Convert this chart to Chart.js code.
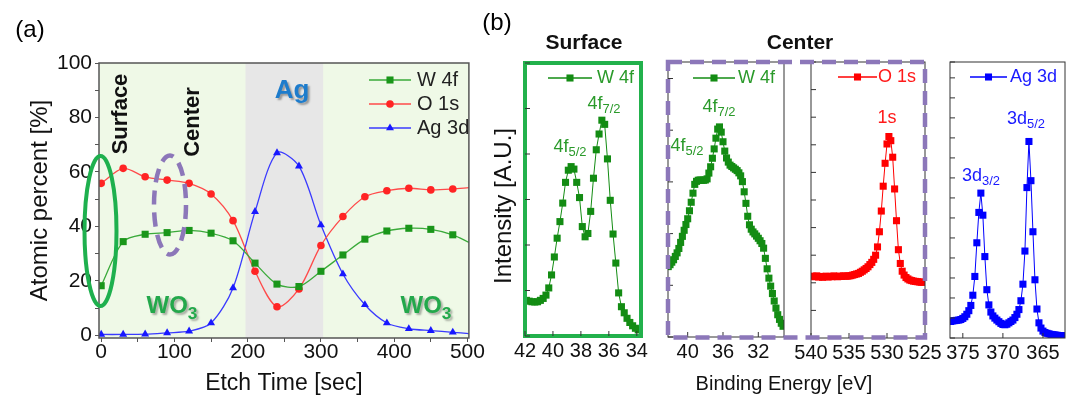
<!DOCTYPE html>
<html>
<head>
<meta charset="utf-8">
<script src="https://cdn.jsdelivr.net/npm/chart.js@4.4.0/dist/chart.umd.min.js"></script>
<style>
body { margin: 0; background: #fff; }
#fig { position: relative; width: 1067px; height: 403px; overflow: hidden; font-family: "Liberation Sans", Arial, sans-serif; }
#fig canvas { position: absolute; z-index: 1; }
.t { position: absolute; white-space: nowrap; line-height: 1; z-index: 3; transform: translate(-50%, -50%); }
.rot { transform: translate(-50%, -50%) rotate(-90deg); }
.b { font-weight: bold; }
.s { font-size: 0.72em; position: relative; top: 0.32em; }
#over { position: absolute; left: 0; top: 0; z-index: 2; }
</style>
</head>
<body>
<div id="fig">
  <svg id="over" width="1067" height="403">
    <ellipse cx="100.5" cy="231" rx="16" ry="75" fill="none" stroke="#1eb04e" stroke-width="4"/>
    <ellipse cx="170" cy="205" rx="16" ry="49.5" fill="none" stroke="#8c77b9" stroke-width="4.5" stroke-dasharray="14 8"/>
    <rect x="668" y="62" width="257" height="275.5" fill="none" stroke="#8c77b9" stroke-width="4.5" stroke-dasharray="14 8"/>
  </svg>

  <div class="t" style="left:30px;top:29px;font-size:24px;">(a)</div>
  <div class="t" style="left:497px;top:22px;font-size:24px;">(b)</div>

  <div class="t rot b" style="left:120px;top:114px;font-size:22px;color:#111;">Surface</div>
  <div class="t rot b" style="left:192px;top:122px;font-size:22px;color:#111;">Center</div>
  <div class="t b" style="left:292px;top:89px;font-size:26px;color:#1d7ccc;text-shadow:2px 2px 2px rgba(0,0,0,0.35);">Ag</div>
  <div class="t b" style="left:172px;top:305px;font-size:24px;color:#23a84b;text-shadow:2px 2px 2px rgba(0,0,0,0.3);">WO<span class="s">3</span></div>
  <div class="t b" style="left:426px;top:305px;font-size:24px;color:#23a84b;text-shadow:2px 2px 2px rgba(0,0,0,0.3);">WO<span class="s">3</span></div>

  <div class="t b" style="left:584px;top:41px;font-size:21px;color:#111;">Surface</div>
  <div class="t b" style="left:800px;top:41px;font-size:21px;color:#111;">Center</div>
  <div class="t rot" style="left:503px;top:206px;font-size:24px;color:#111;">Intensity [A.U.]</div>
  <div class="t" style="left:784px;top:383px;font-size:20px;color:#111;">Binding Energy [eV]</div>

  <div class="t" style="left:604px;top:103px;font-size:18px;color:#2a9a2a;">4f<span class="s">7/2</span></div>
  <div class="t" style="left:570px;top:146px;font-size:18px;color:#2a9a2a;">4f<span class="s">5/2</span></div>
  <div class="t" style="left:719px;top:106px;font-size:18px;color:#2a9a2a;">4f<span class="s">7/2</span></div>
  <div class="t" style="left:687px;top:145px;font-size:18px;color:#2a9a2a;">4f<span class="s">5/2</span></div>
  <div class="t" style="left:887px;top:117px;font-size:18px;color:#ff1a1a;">1s</div>
  <div class="t" style="left:1026px;top:118px;font-size:18px;color:#1a1aff;">3d<span class="s">5/2</span></div>
  <div class="t" style="left:981px;top:175px;font-size:18px;color:#1a1aff;">3d<span class="s">3/2</span></div>
</div>

<script>
// (a) depth profile
const etchTime = [0, 30, 60, 90, 120, 150, 180, 210, 240, 270, 300, 330, 360, 390, 420, 450, 480, 502]
const w4f = [18.2, 34.4, 37.1, 37.7, 38.5, 37.5, 34.7, 26.5, 18.8, 17.9, 23.5, 29.5, 35.3, 38.3, 39.3, 38.9, 36.9, 34.1]
const o1s = [55.8, 61.3, 58.2, 57.0, 55.8, 51.9, 42.1, 23.5, 10.5, 17.0, 33.0, 43.6, 50.9, 53.1, 54.0, 53.4, 53.7, 54.2]
const ag3d = [0.3, 0.3, 0.4, 0.9, 1.5, 4.5, 17.4, 45.4, 67.0, 62.1, 40.5, 22.5, 11.2, 4.5, 2.4, 1.7, 1.1, 0.6]
const agRegion = [197, 303]
const etchTicks = [0, 50, 100, 150, 200, 250, 300, 350, 400, 450, 500]
const percentTicks = [0, 10, 20, 30, 40, 50, 60, 70, 80, 90, 100]

// (b) spectra, binding energy [eV] and intensity [a.u.]
const surfaceE = [41.9, 41.7, 41.5, 41.3, 41.1, 40.9, 40.7, 40.5, 40.3, 40.1, 39.9, 39.7, 39.5, 39.3, 39.1, 38.9, 38.7, 38.5, 38.3, 38.1, 37.9, 37.7, 37.5, 37.3, 37.1, 36.9, 36.7, 36.5, 36.3, 36.1, 35.9, 35.7, 35.5, 35.3, 35.1, 34.9, 34.7, 34.5, 34.3, 34.1, 33.9]
const surfaceW = [13.3, 13.0, 12.8, 12.7, 12.8, 13.3, 14.0, 15.2, 17.8, 22.5, 29.0, 35.8, 41.8, 48.5, 56.0, 60.4, 61.7, 60.8, 56.0, 50.5, 40.0, 36.3, 37.5, 45.5, 57.5, 67.8, 73.5, 78.5, 77.0, 64.5, 49.5, 37.3, 26.8, 16.0, 11.0, 8.8, 6.8, 5.3, 4.1, 3.2, 2.6]

const centerE = [42.2, 42.0, 41.8, 41.6, 41.4, 41.2, 41.0, 40.8, 40.6, 40.4, 40.2, 40.0, 39.8, 39.6, 39.4, 39.2, 39.0, 38.8, 38.6, 38.4, 38.2, 38.0, 37.8, 37.6, 37.4, 37.2, 37.0, 36.8, 36.6, 36.4, 36.2, 36.0, 35.8, 35.6, 35.4, 35.2, 35.0, 34.8, 34.6, 34.4, 34.2, 34.0, 33.8, 33.6, 33.4, 33.2, 33.0, 32.8, 32.6, 32.4, 32.2, 32.0, 31.8, 31.6, 31.4, 31.2, 31.0, 30.8, 30.6, 30.4, 30.2, 30.0, 29.8, 29.6, 29.4, 29.2]
const centerW = [25.6, 26.3, 27.2, 28.1, 29.3, 30.6, 32.2, 34.4, 36.6, 38.8, 40.9, 43.0, 45.9, 49.0, 52.3, 55.5, 56.6, 57.0, 57.1, 57.0, 57.0, 57.1, 57.5, 59.6, 61.9, 65.0, 68.4, 72.3, 75.6, 76.4, 74.5, 71.0, 67.6, 65.1, 63.6, 62.5, 62.0, 61.5, 61.0, 60.5, 59.7, 58.6, 56.5, 52.8, 48.6, 43.9, 40.8, 39.2, 38.2, 37.5, 36.7, 35.9, 35.0, 34.0, 32.3, 28.6, 24.8, 21.4, 18.5, 15.8, 13.1, 10.5, 8.1, 6.4, 5.0, 3.9]

const oxygenE = [539.75, 539.5, 539.25, 539.0, 538.75, 538.5, 538.25, 538.0, 537.75, 537.5, 537.25, 537.0, 536.75, 536.5, 536.25, 536.0, 535.75, 535.5, 535.25, 535.0, 534.75, 534.5, 534.25, 534.0, 533.75, 533.5, 533.25, 533.0, 532.75, 532.5, 532.25, 532.0, 531.75, 531.5, 531.25, 531.0, 530.75, 530.5, 530.25, 530.0, 529.75, 529.5, 529.25, 529.0, 528.75, 528.5, 528.25, 528.0, 527.75, 527.5, 527.25, 527.0, 526.75, 526.5, 526.25, 526.0, 525.75, 525.5, 525.25]
const oxygenI = [22.4, 22.2, 22.5, 22.1, 22.3, 22.0, 22.2, 22.4, 22.1, 22.3, 22.2, 22.5, 22.3, 22.2, 22.4, 22.3, 22.5, 22.4, 22.4, 22.5, 22.6, 22.8, 23.0, 23.2, 23.4, 23.8, 24.2, 24.7, 25.2, 25.8, 26.6, 27.4, 28.5, 30.0, 33.0, 38.5, 46.0, 55.0, 63.3, 70.3, 73.0, 71.5, 65.5, 54.0, 42.5, 32.0, 27.0, 24.2, 22.8, 21.9, 21.4, 21.0, 20.8, 20.6, 20.5, 20.4, 20.3, 20.2, 20.2]

const silverE = [376.5, 376.25, 376.0, 375.75, 375.5, 375.25, 375.0, 374.75, 374.5, 374.25, 374.0, 373.75, 373.5, 373.25, 373.0, 372.75, 372.5, 372.25, 372.0, 371.75, 371.5, 371.25, 371.0, 370.75, 370.5, 370.25, 370.0, 369.75, 369.5, 369.25, 369.0, 368.75, 368.5, 368.25, 368.0, 367.75, 367.5, 367.25, 367.0, 366.75, 366.5, 366.25, 366.0, 365.75, 365.5, 365.25, 365.0, 364.75, 364.5, 364.25, 364.0, 363.75, 363.5, 363.25, 363.0, 362.75, 362.5, 362.25]
const silverI = [6.0, 6.2, 6.3, 6.4, 6.5, 6.7, 7.1, 7.7, 8.6, 9.9, 11.8, 15.5, 22.3, 34.5, 45.5, 52.5, 44.5, 29.5, 17.5, 12.0, 9.4, 8.0, 7.2, 6.5, 5.9, 5.3, 4.9, 4.8, 5.0, 5.5, 6.0, 6.5, 7.4, 8.6, 10.3, 13.5, 19.5, 31.5, 54.5, 71.2, 57.0, 38.5, 21.1, 10.5, 5.5, 3.6, 2.5, 2.0, 1.7, 1.5, 1.3, 1.2, 1.1, 1.0, 0.9, 0.9, 0.8, 0.8]

const surfaceTicks = [42, 40, 38, 36, 34]
const centerTicks = [40, 36, 32]
const oxygenTicks = [540, 535, 530, 525]
const silverTicks = [375, 370, 365]

Chart.defaults.font.family = '"Liberation Sans", Arial, sans-serif'
Chart.defaults.color = '#111'

const fig = document.getElementById('fig')

function makeCanvas(id, left, top, w, h) {
    const c = document.createElement('canvas')
    c.id = id
    c.width = w
    c.height = h
    c.style.left = left + 'px'
    c.style.top = top + 'px'
    c.style.width = w + 'px'
    c.style.height = h + 'px'
    fig.appendChild(c)
    return c.getContext('2d')
}

function marker(ctx, style, x, y, r) {
    ctx.beginPath()
    if (style === 'rect') {
        const s = r * Math.SQRT1_2
        ctx.rect(x - s, y - s, 2 * s, 2 * s)
    } else if (style === 'circle') {
        ctx.arc(x, y, r, 0, Math.PI * 2)
    } else {
        ctx.moveTo(x, y - r)
        ctx.lineTo(x + r * 0.866, y + r * 0.5)
        ctx.lineTo(x - r * 0.866, y + r * 0.5)
        ctx.closePath()
    }
    ctx.fill()
}

// plot background with the Ag band
const bgPlugin = {
    id: 'bg',
    beforeDraw(chart, args, o) {
        if (!o.fill) return
        const {ctx, chartArea: a, scales} = chart
        ctx.save()
        ctx.fillStyle = o.fill
        ctx.fillRect(a.left, a.top, a.right - a.left, a.bottom - a.top)
        const x0 = scales.x.getPixelForValue(o.band[0])
        const x1 = scales.x.getPixelForValue(o.band[1])
        ctx.fillStyle = o.bandFill
        ctx.fillRect(x0, a.top, x1 - x0, a.bottom - a.top)
        ctx.restore()
    }
}

const framePlugin = {
    id: 'frame',
    afterDraw(chart, args, o) {
        const {ctx, chartArea: a} = chart
        ctx.save()
        ctx.strokeStyle = o.color
        ctx.lineWidth = o.width
        ctx.strokeRect(a.left, a.top, a.right - a.left, a.bottom - a.top)
        ctx.restore()
    }
}

// short ticks pointing into the plot
const innerTicksPlugin = {
    id: 'innerTicks',
    afterDraw(chart, args, o) {
        if (!o.len) return
        const {ctx, chartArea: a, scales} = chart
        ctx.save()
        ctx.strokeStyle = o.color
        ctx.lineWidth = 1
        ctx.beginPath()
        scales.x.ticks.forEach(t => {
            const p = scales.x.getPixelForValue(t.value)
            ctx.moveTo(p, a.bottom)
            ctx.lineTo(p, a.bottom - o.len)
        })
        scales.y.ticks.forEach(t => {
            const p = scales.y.getPixelForValue(t.value)
            ctx.moveTo(a.left, p)
            ctx.lineTo(a.left + o.len, p)
        })
        ctx.stroke()
        ctx.restore()
    }
}

// legend drawn as line + marker + text
const keyPlugin = {
    id: 'key',
    afterDraw(chart, args, o) {
        const {ctx, chartArea: a} = chart
        ctx.save()
        ctx.font = o.font
        ctx.textBaseline = 'middle'
        o.items.forEach((it, i) => {
            const x = a.left + o.dx
            const y = a.top + o.dy + i * (o.row || 0)
            ctx.strokeStyle = it.line
            ctx.lineWidth = 1.3
            ctx.beginPath()
            ctx.moveTo(x, y)
            ctx.lineTo(x + o.len, y)
            ctx.stroke()
            ctx.fillStyle = it.fill
            marker(ctx, it.style, x + o.len / 2, y, it.radius)
            ctx.fillStyle = it.text_color || '#222'
            ctx.fillText(it.text, x + o.len + o.gap, y)
        })
        ctx.restore()
    }
}

const xy = (xs, ys) => xs.map((x, i) => ({x, y: ys[i]}))
const hideEdge = ctx => (ctx.raw && ctx.raw.x > 500 ? 0 : undefined)

// ---------- panel (a) ----------
const ctxA = makeCanvas('depth', 0, 0, 485, 403)
new Chart(ctxA, {
    type: 'line',
    data: {
        datasets: [
            {label: 'W 4f', data: xy(etchTime, w4f), borderColor: '#3aaa3a', backgroundColor: '#1a961a', pointStyle: 'rect', pointRadius: c => hideEdge(c) ?? 5, pointBorderWidth: 0, borderWidth: 1.3, tension: 0.3},
            {label: 'O 1s', data: xy(etchTime, o1s), borderColor: '#ff4a4a', backgroundColor: '#ff2424', pointStyle: 'circle', pointRadius: c => hideEdge(c) ?? 3.8, pointBorderWidth: 0, borderWidth: 1.3, tension: 0.3},
            {label: 'Ag 3d', data: xy(etchTime, ag3d), borderColor: '#3a3aff', backgroundColor: '#1818ff', pointStyle: 'triangle', pointRadius: c => hideEdge(c) ?? 4.6, pointBorderWidth: 0, borderWidth: 1.3, tension: 0.3}
        ]
    },
    options: {
        responsive: false,
        animation: false,
        events: [],
        layout: {padding: {top: 63, right: 13, left: 0, bottom: 0}},
        plugins: {
            legend: {display: false},
            tooltip: {enabled: false},
            bg: {fill: '#eff9e7', band: agRegion, bandFill: '#e7e7e7'},
            frame: {color: '#555', width: 1.5},
            key: {
                dx: 270, dy: 17, row: 24, len: 42, gap: 6, font: '20px "Liberation Sans", Arial, sans-serif',
                items: [
                    {text: 'W 4f', line: '#3aaa3a', fill: '#1a961a', style: 'rect', radius: 5},
                    {text: 'O 1s', line: '#ff4a4a', fill: '#ff2424', style: 'circle', radius: 3.8},
                    {text: 'Ag 3d', line: '#3a3aff', fill: '#1818ff', style: 'triangle', radius: 4.6}
                ]
            }
        },
        scales: {
            x: {
                type: 'linear', min: -3, max: 502,
                afterBuildTicks: s => { s.ticks = etchTicks.map(v => ({value: v})) },
                afterFit: s => { s.height = 65 },
                grid: {drawOnChartArea: false, tickLength: 4, color: '#555'},
                border: {display: false},
                ticks: {autoSkip: false, maxRotation: 0, padding: 0, color: '#111', font: {size: 21, lineHeight: 1},
                    callback: v => (v % 100 === 0 ? v : '')},
                title: {display: true, text: 'Etch Time [sec]', color: '#111', font: {size: 23, lineHeight: 1.2}, padding: {top: 0, bottom: 6}}
            },
            y: {
                min: -1, max: 100,
                afterBuildTicks: s => { s.ticks = percentTicks.map(v => ({value: v})) },
                afterFit: s => { s.width = 99 },
                grid: {drawOnChartArea: false, tickLength: 4, color: '#555'},
                border: {display: false},
                ticks: {autoSkip: false, padding: 3, color: '#111', font: {size: 21, lineHeight: 1},
                    callback: v => (v % 20 === 0 ? v : '')},
                title: {display: true, text: 'Atomic percent [%]', color: '#111', font: {size: 24, lineHeight: 1.2}, padding: {top: 26, bottom: 0}}
            }
        }
    },
    plugins: [bgPlugin, framePlugin, keyPlugin]
})

// ---------- panel (b) ----------
function spectrum(id, area, range, yRange, step, energy, counts, color, ticks, frame, key) {
    const pad = 25
    const ctx = makeCanvas(id, area.l - pad, area.t - 10, area.r - area.l + 2 * pad, area.b - area.t + 10 + 45)
    return new Chart(ctx, {
        type: 'line',
        data: {
            datasets: [{
                label: key.items[0].text, data: xy(energy, counts),
                borderColor: color, backgroundColor: color, borderWidth: 1,
                pointStyle: 'rect', pointRadius: 5, pointBorderWidth: 0, tension: 0
            }]
        },
        options: {
            responsive: false,
            animation: false,
            events: [],
            layout: {padding: {left: pad, right: pad, top: 10, bottom: 0}},
            plugins: {
                legend: {display: false},
                tooltip: {enabled: false},
                frame: frame,
                innerTicks: {len: 5, color: '#333'},
                key: key
            },
            scales: {
                x: {
                    type: 'linear', reverse: true, min: range[0], max: range[1],
                    afterBuildTicks: s => { s.ticks = ticks.map(v => ({value: v})) },
                    afterFit: s => { s.height = 45 },
                    grid: {display: false, drawTicks: false},
                    border: {display: false},
                    ticks: {autoSkip: false, maxRotation: 0, padding: 5, color: '#111', font: {size: 20, lineHeight: 1}}
                },
                y: {
                    min: yRange[0], max: yRange[1],
                    afterFit: s => { s.width = 0 },
                    grid: {display: false, drawTicks: false},
                    border: {display: false},
                    ticks: {display: false, stepSize: step}
                }
            }
        },
        plugins: [framePlugin, innerTicksPlugin, keyPlugin]
    })
}

const keyFont = '18px "Liberation Sans", Arial, sans-serif'
const green = '#138c13'

spectrum('surface', {l: 525, r: 641, t: 63, b: 336}, [33.7, 42], [0.4, 99.2], 16.5, surfaceE, surfaceW, green, surfaceTicks,
    {color: '#22b14c', width: 4},
    {dx: 23, dy: 15, len: 44, gap: 5, font: keyFont, items: [{text: 'W 4f', line: green, fill: green, style: 'rect', radius: 5, text_color: '#2a9a2a'}]})

spectrum('center', {l: 668, r: 784, t: 62, b: 337}, [29.09, 42.23], [0, 100], 18.8, centerE, centerW, green, centerTicks,
    {color: '#333', width: 1},
    {dx: 25, dy: 16, len: 42, gap: 3, font: keyFont, items: [{text: 'W 4f', line: green, fill: green, style: 'rect', radius: 5, text_color: '#2a9a2a'}]})

spectrum('oxygen', {l: 811, r: 925, t: 62, b: 338}, [525, 540], [0, 100], 10, oxygenE, oxygenI, '#ff0000', oxygenTicks,
    {color: '#333', width: 1},
    {dx: 27, dy: 15, len: 39, gap: 1, font: keyFont, items: [{text: 'O 1s', line: '#ff0000', fill: '#ff0000', style: 'rect', radius: 5, text_color: '#ff1a1a'}]})

spectrum('silver', {l: 950, r: 1065, t: 62, b: 338}, [362.25, 376.6], [0, 100], 7.25, silverE, silverI, '#0000ff', silverTicks,
    {color: '#333', width: 1},
    {dx: 20, dy: 15, len: 37, gap: 3, font: keyFont, items: [{text: 'Ag 3d', line: '#0000ff', fill: '#0000ff', style: 'rect', radius: 5, text_color: '#1a1aff'}]})
</script>
</body>
</html>
